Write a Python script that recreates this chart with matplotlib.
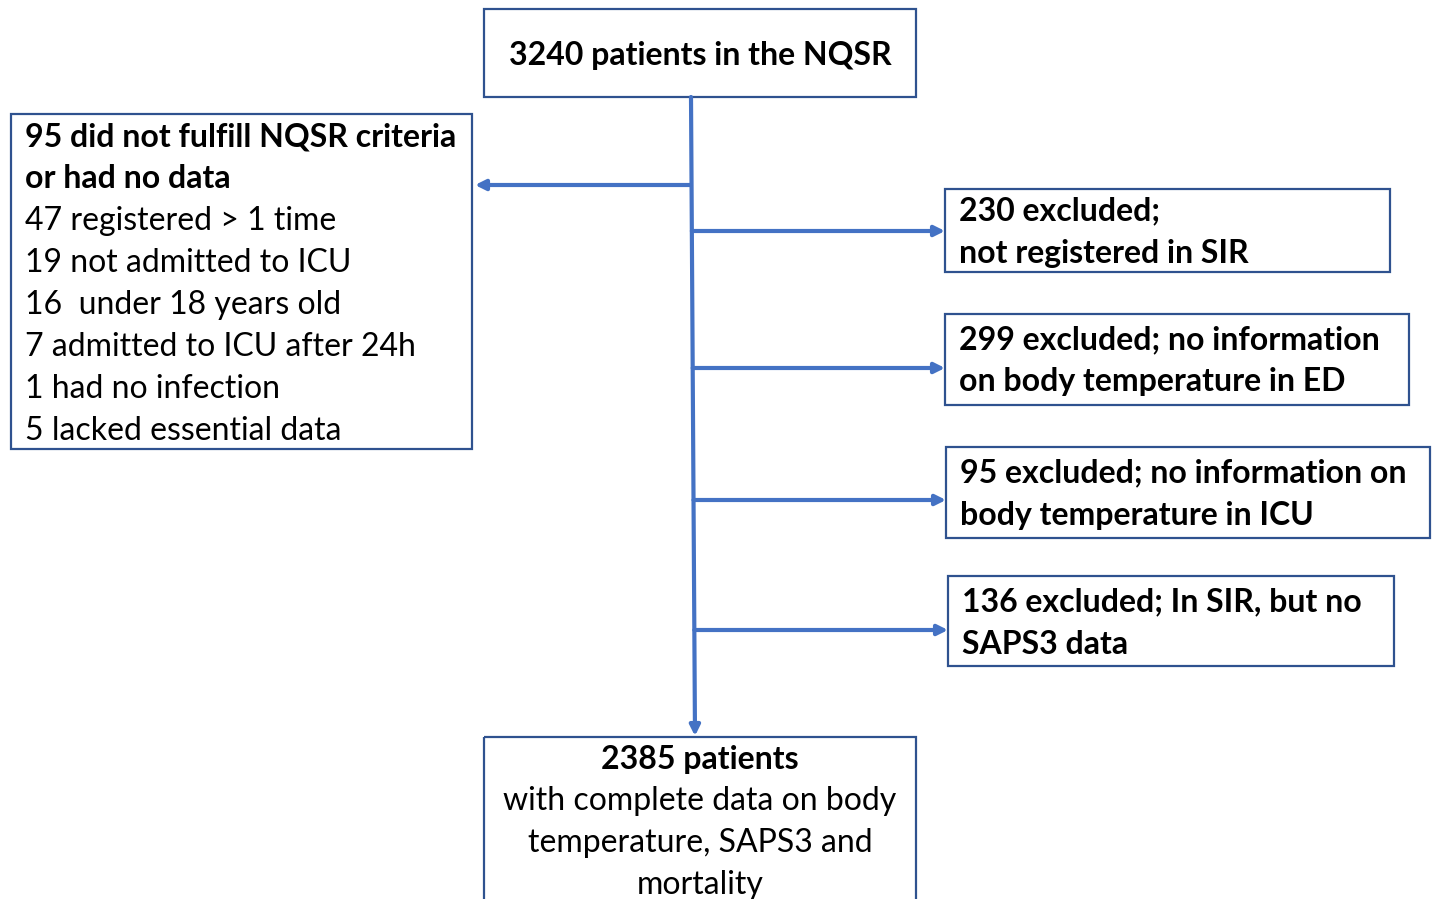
import matplotlib.pyplot as plt
from matplotlib.patches import Rectangle

plt.rcParams['font.family'] = ['Lato', 'DejaVu Sans']

# flow chart content
top_text = "3240 patients in the NQSR"
left_title = ["95 did not fulfill NQSR criteria", "or had no data"]
left_items = ["47 registered > 1 time", "19 not admitted to ICU",
              "16  under 18 years old", "7 admitted to ICU after 24h",
              "1 had no infection", "5 lacked essential data"]
right_texts = [["230 excluded;", "not registered in SIR"],
               ["299 excluded; no information", "on body temperature in ED"],
               ["95 excluded; no information on", "body temperature in ICU"],
               ["136 excluded; In SIR, but no", "SAPS3 data"]]
bottom_title = "2385 patients"
bottom_lines = ["with complete data on body", "temperature, SAPS3 and", "mortality"]

# layout in pixels (x0, y0, x1, y1)
top_box = (484, 9, 916, 97)
left_box = (11, 114, 472, 449)
right_boxes = [(945, 189, 1390, 272), (945, 314, 1409, 405),
               (946, 447, 1430, 538), (948, 576, 1394, 666)]
right_text_y = [211, 340, 473, 602]
bottom_box = (484, 737, 916, 905)
right_arrow_y = [231, 368, 500, 630]

W, H = 1432, 899
fig = plt.figure(figsize=(W / 100, H / 100), dpi=100)
ax = fig.add_axes([0, 0, 1, 1])
ax.set_xlim(0, W)
ax.set_ylim(H, 0)
ax.axis('off')

edge = '#2F528F'
line = '#4472C4'
fs = 23


def box(b):
    ax.add_patch(Rectangle((b[0], b[1]), b[2] - b[0], b[3] - b[1],
                           fill=False, ec=edge, lw=1.6))


def arrow(x0, y0, x1, y1):
    ax.annotate('', xy=(x1, y1), xytext=(x0, y0),
                arrowprops=dict(arrowstyle='-|>,head_length=0.6,head_width=0.3',
                                color=line, lw=3, shrinkA=0, shrinkB=0))


for b in [top_box, left_box, bottom_box] + right_boxes:
    box(b)

ax.text(700, 56, top_text, ha='center', va='center', fontsize=fs, fontweight='bold')

y = 137
for t in left_title:
    ax.text(25, y, t, ha='left', va='center', fontsize=fs, fontweight='bold')
    y += 42
for t in left_items:
    ax.text(25, y, t, ha='left', va='center', fontsize=fs)
    y += 42

for b, y0, lines in zip(right_boxes, right_text_y, right_texts):
    for i, t in enumerate(lines):
        ax.text(b[0] + 14, y0 + 42 * i, t, ha='left', va='center',
                fontsize=fs, fontweight='bold')

ax.text(700, 760, bottom_title, ha='center', va='center', fontsize=fs, fontweight='bold')
for i, t in enumerate(bottom_lines):
    ax.text(700, 801 + 42 * i, t, ha='center', va='center', fontsize=fs)

# main vertical arrow
arrow(691, 97, 695, 736)
# left arrow
arrow(691, 185, 475, 185)
# right arrows
for yy, b in zip(right_arrow_y, right_boxes):
    xs = 691 + (yy - 97) / (736 - 97) * 4
    arrow(xs, yy, b[0], yy)

fig.savefig('out.png', dpi=100)
